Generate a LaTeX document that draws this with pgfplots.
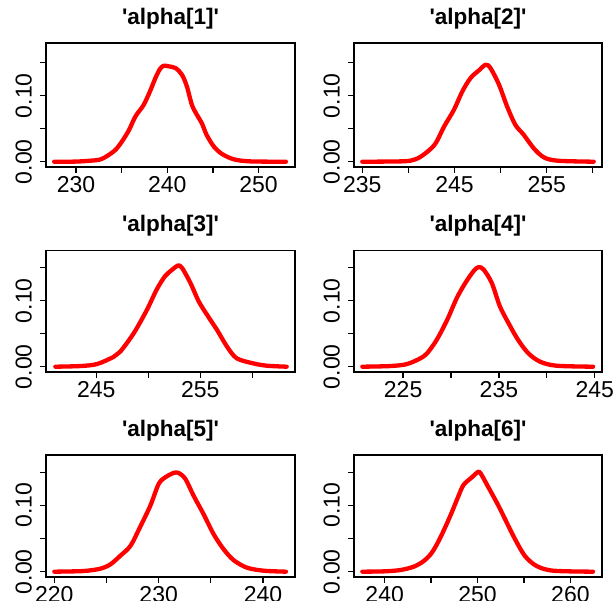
\documentclass[border=0pt]{standalone}
\usepackage{fontspec}
\setmainfont{Liberation Sans}
\usepackage{pgfplots}
\pgfplotsset{compat=1.18}

\newcommand{\tk}{\fontsize{23}{26}\selectfont}

\pgfplotsset{
    rpanel/.style={
        scale only axis,
        axis line style={line width=1.3pt},
        every tick/.style={black, line width=1.3pt},
        tick align=outside,
        major tick length=6pt,
        xtick pos=bottom,
        ytick pos=left,
        ymin=-0.008,
        ytick={0,0.05,0.10,0.15},
        yticklabels={0.00,,0.10,},
        tick label style={font=\tk},
        xticklabel style={anchor=north, inner sep=0pt},
        xticklabel shift=3pt,
        yticklabel style={rotate=90, anchor=south, inner sep=0pt},
        yticklabel shift=8pt,
        title style={at={(0.5,1)}, anchor=base, inner sep=0pt, yshift=12.5pt,
            font=\bfseries\fontsize{22.5}{26}\selectfont},
    },
    dens/.style={red, line width=4.3pt, line join=round, line cap=round, smooth, mark=none},
}

\begin{document}
\begin{tikzpicture}[x=1pt,y=1pt]
    \path[use as bounding box] (0,0) rectangle (614,601);

    % row 1
    \begin{axis}[rpanel, at={(46pt,434pt)}, anchor=south west,
        width=249pt, height=124pt,
        xmin=226.7, xmax=254.0, ymax=0.180,
        xtick={230,235,240,245,250}, xticklabels={230,,240,,250},
        title={\textquotesingle alpha[1]\textquotesingle}]
    \addplot[dens] coordinates {
        (227.6,0) (230,0.0002) (232.0,0.002) (232.7,0.0036) (233.4,0.0086)
        (234.3,0.0178) (235.0,0.030) (235.8,0.048) (236.5,0.0685) (237.4,0.086)
        (238.1,0.1066) (238.7,0.127) (239.2,0.1406) (239.6,0.1455) (240.1,0.1447)
        (240.9,0.142) (241.6,0.132) (242.15,0.114) (242.7,0.086) (243.25,0.071)
        (243.8,0.058) (244.3,0.041) (245.1,0.023) (246.0,0.0117) (247.3,0.0036)
        (249.1,0.0005) (253.0,0)
    };
    \end{axis}

    \begin{axis}[rpanel, at={(354pt,434pt)}, anchor=south west,
        width=248pt, height=124pt,
        xmin=234.1, xmax=261.0, ymax=0.180,
        xtick={235,240,245,250,255,260}, xticklabels={235,,245,,255,},
        title={\textquotesingle alpha[2]\textquotesingle}]
    \addplot[dens] coordinates {
        (235.0,0) (237.5,0.0002) (239.9,0.001) (241.0,0.005) (242.05,0.015)
        (242.96,0.028) (243.86,0.053) (244.95,0.079) (245.85,0.1066) (246.75,0.127)
        (247.66,0.1386) (248.38,0.147) (248.9,0.142) (249.83,0.1168) (250.7,0.084)
        (251.6,0.056) (252.5,0.041) (253.6,0.0203) (254.7,0.0066) (256.2,0.0015)
        (260.1,0)
    };
    \end{axis}

    % row 2
    \begin{axis}[rpanel, at={(46pt,229pt)}, anchor=south west,
        width=249pt, height=121.5pt,
        xmin=240.16, xmax=264.1, ymax=0.176,
        xtick={245,250,255,260}, xticklabels={245,,255,},
        title={\textquotesingle alpha[3]\textquotesingle}]
    \addplot[dens] coordinates {
        (241.06,0) (243.46,0.001) (245.06,0.004) (246.67,0.015) (247.3,0.0228)
        (248.6,0.0508) (249.87,0.0863) (250.8,0.1168) (251.6,0.137) (252.3,0.147)
        (252.85,0.1533) (253.24,0.1497) (254.04,0.127) (254.84,0.099) (255.64,0.0787)
        (256.6,0.0558) (257.56,0.0305) (258.5,0.0127) (260.1,0.005) (261.4,0.0015)
        (263.3,0)
    };
    \end{axis}

    \begin{axis}[rpanel, at={(354pt,229pt)}, anchor=south west,
        width=248pt, height=121.5pt,
        xmin=219.87, xmax=245.76, ymax=0.176,
        xtick={225,230,235,240,245}, xticklabels={225,,235,,245},
        title={\textquotesingle alpha[4]\textquotesingle}]
    \addplot[dens] coordinates {
        (220.74,0) (223.68,0.001) (225.4,0.004) (226.8,0.0127) (227.5,0.0203)
        (228.5,0.0406) (229.6,0.071) (230.6,0.104) (231.5,0.127) (232.35,0.1447)
        (232.87,0.1508) (233.4,0.1472) (234.25,0.127) (235.1,0.0914) (236.0,0.066)
        (237.0,0.0406) (238.07,0.0203) (239.3,0.0076) (241.0,0.0015) (244.83,0)
    };
    \end{axis}

    % row 3
    \begin{axis}[rpanel, at={(46pt,24pt)}, anchor=south west,
        width=249pt, height=122pt,
        xmin=219.2, xmax=243.07, ymax=0.176,
        xtick={220,225,230,235,240}, xticklabels={220,,230,,240},
        title={\textquotesingle alpha[5]\textquotesingle}]
    \addplot[dens] coordinates {
        (220.0,0) (222.8,0.001) (224.4,0.0045) (225.37,0.011) (226.3,0.0237)
        (227.3,0.039) (228.2,0.0667) (229.2,0.0995) (230.0,0.1323) (230.64,0.1424)
        (231.44,0.149) (231.9,0.149) (232.56,0.140) (233.35,0.1146) (234.3,0.0869)
        (235.27,0.0566) (236.23,0.0338) (237.2,0.0172) (238.47,0.006) (240.06,0.0015)
        (242.2,0)
    };
    \end{axis}

    \begin{axis}[rpanel, at={(354pt,24pt)}, anchor=south west,
        width=248pt, height=122pt,
        xmin=236.7, xmax=263.4, ymax=0.176,
        xtick={240,245,250,255,260}, xticklabels={240,,250,,260},
        title={\textquotesingle alpha[6]\textquotesingle}]
    \addplot[dens] coordinates {
        (237.6,0) (239.93,0.0005) (241.7,0.0025) (243.14,0.0076) (244.2,0.016)
        (245.1,0.029) (246.0,0.0515) (247.07,0.0843) (247.96,0.1146) (248.5,0.131)
        (249.4,0.1424) (250.0,0.150) (250.3,0.149) (251.18,0.127) (252.25,0.0995)
        (253.14,0.0742) (254.04,0.049) (255.1,0.0237) (256.36,0.0086) (258.14,0.0015)
        (262.43,0)
    };
    \end{axis}
\end{tikzpicture}
\end{document}
